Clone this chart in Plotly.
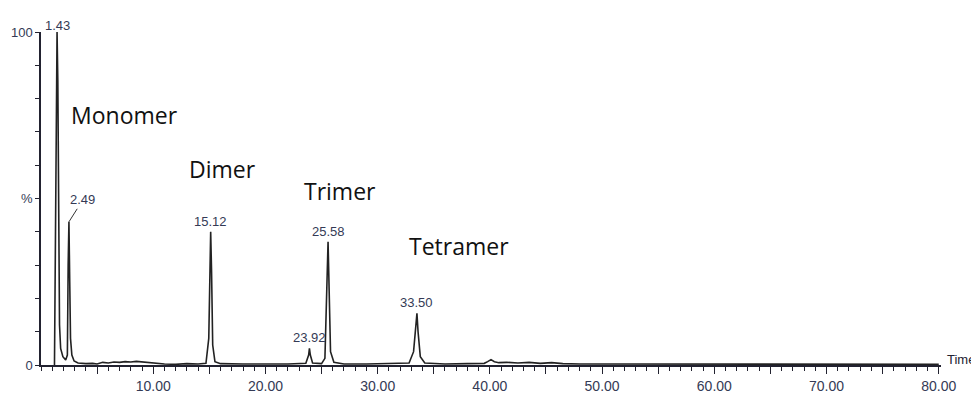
import plotly.graph_objects as go

# Chromatogram trace (retention time in min, relative intensity in %)
time = [1.20, 1.27, 1.33, 1.43, 1.50, 1.58, 1.65, 1.75, 1.95, 2.20, 2.35, 2.42, 2.49, 2.56, 2.63,
        2.75, 2.95, 3.30, 4.00, 4.60, 5.00, 5.50, 6.00, 6.50, 7.00, 7.50, 8.00, 8.50, 9.00, 9.50,
        10.00, 11.00, 12.00, 13.00, 14.00, 14.70, 14.95, 15.05, 15.12, 15.20, 15.30, 15.50, 16.00,
        18.00, 20.00, 22.00, 23.60, 23.85, 23.92, 24.00, 24.20, 25.00, 25.30, 25.45, 25.58, 25.68,
        25.80, 26.10, 27.00, 29.00, 31.00, 32.80, 33.20, 33.40, 33.50, 33.60, 33.80, 34.20, 36.00,
        38.00, 39.50, 39.80, 40.10, 40.40, 40.80, 41.50, 42.50, 43.50, 44.50, 45.50, 46.50, 48.00,
        52.00, 60.00, 70.00, 80.00]
intensity = [0.0, 30.0, 80.0, 100.0, 85.0, 40.0, 12.0, 5.0, 2.5, 1.5, 3.0, 30.0, 43.0, 25.0, 8.0,
             3.0, 1.2, 0.6, 0.4, 0.5, 0.3, 0.8, 0.6, 0.9, 0.8, 1.0, 0.9, 1.1, 0.9, 0.8,
             0.5, 0.3, 0.2, 0.4, 0.3, 0.5, 8.0, 30.0, 40.0, 28.0, 6.0, 1.0, 0.4,
             0.3, 0.2, 0.3, 0.5, 3.0, 5.0, 3.0, 0.6, 0.4, 2.0, 20.0, 37.0, 22.0,
             4.0, 0.8, 0.3, 0.3, 0.4, 0.6, 4.0, 11.0, 15.5, 10.0, 2.5, 0.6, 0.3,
             0.4, 0.5, 1.0, 1.6, 1.0, 0.7, 0.8, 0.6, 0.8, 0.5, 0.7, 0.4, 0.3,
             0.3, 0.2, 0.2, 0.2]

# Labelled peaks
peak_times = [1.43, 2.49, 15.12, 23.92, 25.58, 33.50]
peak_heights = [100.0, 43.0, 40.0, 5.0, 37.0, 15.5]
peak_labels = ["1.43", "2.49", "15.12", "23.92", "25.58", "33.50"]

# Oligomer names
names = ["Monomer", "Dimer", "Trimer", "Tetramer"]
name_x = [2.50, 13.00, 23.30, 32.65]
name_y = [75.0, 58.8, 52.2, 35.8]

x_tick_vals = [5, 10, 15, 20, 25, 30, 35, 40, 45, 50, 55, 60, 65, 70, 75, 80]
x_tick_text = ["", "10.00", "", "20.00", "", "30.00", "", "40.00", "", "50.00", "", "60.00",
               "", "70.00", "", "80.00"]
y_tick_vals = [0, 10, 20, 30, 40, 50, 60, 70, 80, 90, 100]
y_tick_text = ["0", "", "", "", "", "%", "", "", "", "", "100"]

axis_color = "#222230"
label_color = "#343a55"

fig = go.Figure()
fig.add_trace(go.Scatter(x=time, y=intensity, mode="lines",
                         line=dict(color="#222222", width=1.6), hoverinfo="skip",
                         showlegend=False, cliponaxis=False))

for t, h, lab in zip(peak_times, peak_heights, peak_labels):
    if lab == "2.49":
        fig.add_annotation(x=t, y=h, text=lab, showarrow=True, arrowhead=0, arrowwidth=1,
                           arrowcolor="#333333", ax=14, ay=-22, standoff=0,
                           font=dict(family="Liberation Sans", size=13, color=label_color))
    else:
        fig.add_annotation(x=t, y=h, text=lab, showarrow=False, yanchor="bottom",
                           yshift=-3 if lab == "1.43" else 1,
                           font=dict(family="Liberation Sans", size=13, color=label_color))

for n, x, y in zip(names, name_x, name_y):
    fig.add_annotation(x=x, y=y, text=n, showarrow=False, xanchor="left", yanchor="middle",
                       font=dict(family="Open Sans", size=23, color="#111111"))

fig.add_annotation(xref="paper", yref="y", x=1, y=0, text="Time", showarrow=False,
                   xanchor="left", yanchor="bottom", xshift=4, yshift=-4,
                   font=dict(family="Liberation Sans", size=13, color=axis_color))

fig.update_layout(
    width=979, height=394,
    margin=dict(l=33, r=46, t=24, b=37),
    paper_bgcolor="white", plot_bgcolor="white",
    showlegend=False,
    xaxis=dict(range=[0, 80.2], showgrid=False, zeroline=False, showline=True,
               automargin=False,
               linecolor=axis_color, linewidth=1.5, ticks="outside", ticklen=7,
               tickcolor=axis_color, tickwidth=1.3, tickvals=x_tick_vals,
               ticktext=x_tick_text,
               tickfont=dict(family="Liberation Sans", size=14, color=label_color),
               minor=dict(dtick=1, ticks="outside", ticklen=4, tickcolor=axis_color,
                          tickwidth=1.2, showgrid=False)),
    yaxis=dict(range=[0, 100], showgrid=False, zeroline=False, showline=True,
               automargin=False,
               linecolor=axis_color, linewidth=1.5, ticks="outside", ticklen=4,
               tickcolor=axis_color, tickwidth=1.3, tickvals=y_tick_vals,
               ticktext=y_tick_text, ticklabelstandoff=0,
               tickfont=dict(family="Liberation Sans", size=13, color=label_color)),
)

fig.write_html("out.html")
